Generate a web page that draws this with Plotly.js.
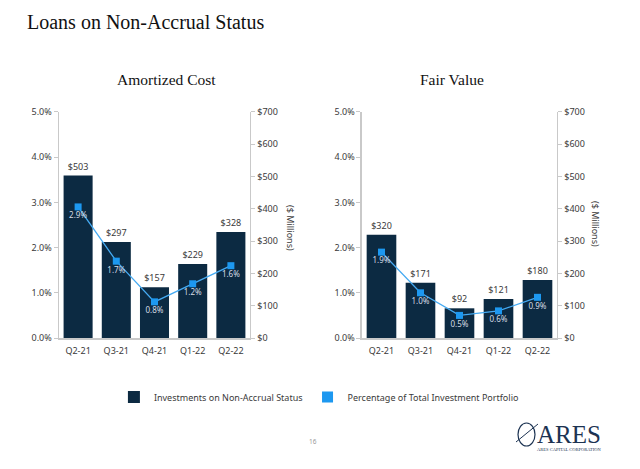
<!DOCTYPE html>
<html>
<head>
<meta charset="utf-8">
<script src="https://cdn.plot.ly/plotly-3.0.1.min.js"></script>
<style>html,body{margin:0;padding:0;background:#fff;}#chart{width:640px;height:469px;}</style>
</head>
<body>
<div id="chart"></div>
<script>
const quarters = ['Q2-21', 'Q3-21', 'Q4-21', 'Q1-22', 'Q2-22'];
const amortizedCost = [503, 297, 157, 229, 328];
const amortizedPct = [2.9, 1.7, 0.8, 1.2, 1.6];
const fairValue = [320, 171, 92, 121, 180];
const fairPct = [1.9, 1.0, 0.5, 0.6, 0.9];
const pctTicks = [0, 1, 2, 3, 4, 5];
const pctTickLabels = ['0.0%', '1.0%', '2.0%', '3.0%', '4.0%', '5.0%'];
const dollarTicks = [0, 100, 200, 300, 400, 500, 600, 700];
const dollarTickLabels = ['$0', '$100', '$200', '$300', '$400', '$500', '$600', '$700'];

const NAVY = '#0c2a42';
const BLUE = '#1d98f0';
const LINE = '#45aaf2';
const AXC = '#c9c9c9';
const TXT = '#3a3a3a';
const SANS = 'Noto Sans, sans-serif';
const SERIF = 'Liberation Serif, Times New Roman, serif';

function barTrace(xa, ya, vals, showleg) {
  return {
    type: 'bar', x: quarters, y: vals, xaxis: xa, yaxis: ya,
    name: 'Investments on Non-Accrual Status', showlegend: showleg,
    marker: {color: NAVY},
    texttemplate: '$%{y}', textposition: 'outside', cliponaxis: false,
    textfont: {family: SANS, size: 9, color: TXT},
    hoverinfo: 'skip'
  };
}
function lineTrace(xa, ya, vals) {
  return {
    type: 'scatter', mode: 'lines+markers+text', x: quarters, y: vals,
    xaxis: xa, yaxis: ya, showlegend: false,
    line: {color: LINE, width: 1.3},
    marker: {symbol: 'square', size: 7, color: BLUE},
    texttemplate: '%{y:.1f}%', textposition: 'bottom center', cliponaxis: false,
    textfont: {family: SANS, size: 8, color: '#d5dde5'},
    hoverinfo: 'skip'
  };
}

const data = [
  barTrace('x', 'y', amortizedCost, true),
  lineTrace('x', 'y2', amortizedPct),
  barTrace('x2', 'y3', fairValue, false),
  lineTrace('x2', 'y4', fairPct),
  {type: 'scatter', mode: 'markers', x: [null], y: [null], xaxis: 'x', yaxis: 'y2',
   name: 'Percentage of Total Investment Portfolio', showlegend: true,
   marker: {symbol: 'square', size: 11, color: BLUE}, hoverinfo: 'skip'}
];

const yDom = [0.2793, 0.7612];
const tickFont = {family: SANS, size: 9, color: TXT};

function xAxis(dom, anchor) {
  return {domain: dom, anchor: anchor, type: 'category', showline: true, linecolor: AXC, linewidth: 1.5,
          ticks: '', ticklabelstandoff: 4, tickfont: tickFont, showgrid: false, zeroline: false, fixedrange: true};
}
function dollarAxis(anchor) {
  return {domain: yDom, anchor: anchor, side: 'right', range: [0, 700], tickmode: 'array',
          tickvals: dollarTicks, ticktext: dollarTickLabels,
          showline: true, linecolor: AXC, linewidth: 1.5, ticks: 'outside', ticklen: 4,
          tickcolor: AXC, tickfont: tickFont, showgrid: false, zeroline: false, fixedrange: true};
}
function pctAxis(over, anchor) {
  return {domain: yDom, overlaying: over, anchor: anchor, side: 'left', range: [0, 5], tickmode: 'array',
          tickvals: pctTicks, ticktext: pctTickLabels,
          showline: true, linecolor: AXC, linewidth: 1.5, ticks: 'outside',
          ticklen: 4, tickcolor: AXC, tickfont: tickFont, showgrid: false, zeroline: false, fixedrange: true};
}

const layout = {
  width: 640, height: 469,
  margin: {l: 0, r: 0, t: 0, b: 0},
  paper_bgcolor: '#ffffff', plot_bgcolor: 'rgba(0,0,0,0)',
  barmode: 'group', bargap: 0.24,
  showlegend: true,
  legend: {orientation: 'h', x: 0.178, xanchor: 'left', y: 0.1535, yanchor: 'middle',
           font: {family: SANS, size: 9, color: TXT}, bgcolor: 'rgba(0,0,0,0)',
           itemclick: false, itemdoubleclick: false},
  xaxis: xAxis([0.0922, 0.3906], 'y'),
  yaxis: dollarAxis('x'),
  yaxis2: pctAxis('y', 'x'),
  xaxis2: xAxis([0.5656, 0.8703], 'y3'),
  yaxis3: dollarAxis('x2'),
  yaxis4: pctAxis('y3', 'x2'),
  annotations: [
    {text: 'Loans on Non-Accrual Status', xref: 'paper', yref: 'paper', x: 25/640, y: 1 - 22/469,
     xanchor: 'left', yanchor: 'middle', showarrow: false, font: {family: SERIF, size: 20, color: '#111'}},
    {text: 'Amortized Cost', xref: 'paper', yref: 'paper', x: 166/640, y: 1 - 80/469,
     xanchor: 'center', yanchor: 'middle', showarrow: false, font: {family: SERIF, size: 15.5, color: '#111'}},
    {text: 'Fair Value', xref: 'paper', yref: 'paper', x: 452/640, y: 1 - 80/469,
     xanchor: 'center', yanchor: 'middle', showarrow: false, font: {family: SERIF, size: 15.5, color: '#111'}},
    {text: '($ Millions)', xref: 'paper', yref: 'paper', x: 291/640, y: 1 - 228/469, textangle: 90,
     xanchor: 'center', yanchor: 'middle', showarrow: false, font: {family: SANS, size: 9, color: TXT}},
    {text: '($ Millions)', xref: 'paper', yref: 'paper', x: 596/640, y: 1 - 224/469, textangle: 90,
     xanchor: 'center', yanchor: 'middle', showarrow: false, font: {family: SANS, size: 9, color: TXT}},
    {text: '16', xref: 'paper', yref: 'paper', x: 313/640, y: 1 - 441/469,
     xanchor: 'center', yanchor: 'middle', showarrow: false, font: {family: SANS, size: 6.5, color: '#999'}},
    {text: 'ARES', xref: 'paper', yref: 'paper', x: 569/640, y: 1 - 434/469,
     xanchor: 'center', yanchor: 'middle', showarrow: false, font: {family: SERIF, size: 25, color: '#1c3352'}},
    {text: 'ARES CAPITAL CORPORATION', xref: 'paper', yref: 'paper', x: 569/640, y: 1 - 449/469,
     xanchor: 'center', yanchor: 'middle', showarrow: false, font: {family: SERIF, size: 4.5, color: '#1c3352'}}
  ],
  shapes: [
    {type: 'circle', xref: 'paper', yref: 'paper', x0: 518/640, x1: 535/640, y0: 1 - 446/469, y1: 1 - 423/469,
     line: {color: '#1c3352', width: 1.2}},
    {type: 'line', xref: 'paper', yref: 'paper', x0: 516/640, x1: 538/640, y0: 1 - 442/469, y1: 1 - 424/469,
     line: {color: '#1c3352', width: 1}}
  ]
};

Plotly.newPlot('chart', data, layout, {displayModeBar: false, staticPlot: true});
</script>
</body>
</html>
